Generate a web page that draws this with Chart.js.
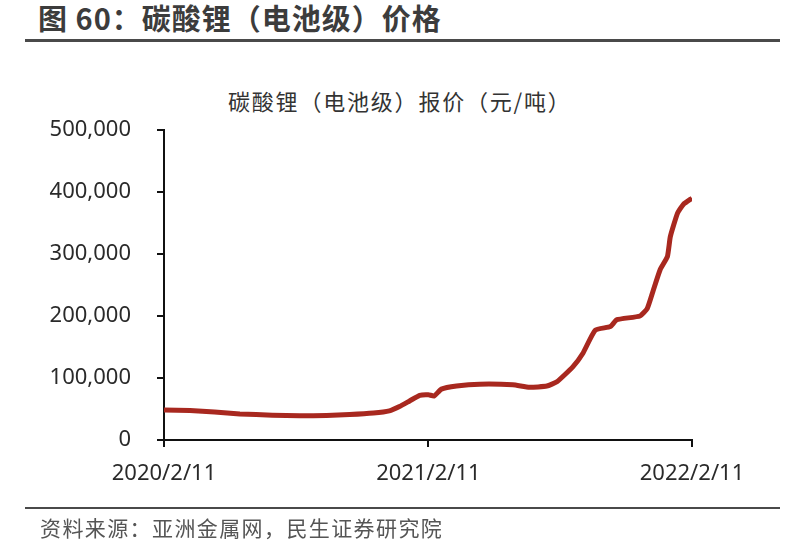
<!DOCTYPE html>
<html>
<head>
<meta charset="utf-8">
<script src="https://cdn.jsdelivr.net/npm/chart.js@4.4.1/dist/chart.umd.min.js"></script>
<style>
  body { margin: 0; background: #fff; }
  #wrap { position: relative; width: 800px; height: 543px; overflow: hidden;
          font-family: "Noto Sans CJK SC", "Noto Sans", sans-serif; }
  #title { position: absolute; left: 38px; top: -4px; font-size: 29px; font-weight: bold; color: #3c3c3c; white-space: nowrap; letter-spacing: 1px; }
  #rule1 { position: absolute; left: 25px; top: 39px; width: 755px; height: 3px; background: #4a4a4a; }
  #subtitle { position: absolute; left: 228px; top: 84px; font-size: 22px; color: #333; white-space: nowrap; letter-spacing: 1.8px; }
  #rule2 { position: absolute; left: 25px; top: 507px; width: 755px; height: 2px; background: #4a4a4a; }
  #source { position: absolute; left: 40px; top: 512px; font-size: 21px; color: #555; white-space: nowrap; letter-spacing: 1.4px; }
  canvas { position: absolute; left: 0; top: 0; }
</style>
</head>
<body>
<div id="wrap">
  <div id="title">图 60：碳酸锂（电池级）价格</div>
  <div id="rule1"></div>
  <div id="subtitle">碳酸锂（电池级）报价（元/吨）</div>
  <canvas id="chart" width="800" height="543"></canvas>
  <div id="rule2"></div>
  <div id="source">资料来源：亚洲金属网，民生证券研究院</div>
</div>
<script>
// days since 2020/2/11, price in 元/吨
const dayOffsets = [0, 36, 70, 105, 150, 188, 225, 257, 290, 312, 326, 340, 354, 366, 374, 384, 405, 437, 483, 506, 530, 544, 566, 580, 597, 618, 627, 659, 669, 677, 687, 697, 701, 711, 719, 731];
const prices     = [48500, 47500, 45000, 42000, 40000, 39000, 39500, 41000, 43500, 47000, 54000, 63000, 72000, 73000, 71000, 82000, 87000, 90000, 89000, 85000, 87000, 94000, 118000, 140000, 177000, 183000, 194000, 200000, 212000, 240000, 275000, 296000, 328000, 366000, 380000, 390000];
const xTickDays   = [0, 366, 731];
const xTickLabels = ['2020/2/11', '2021/2/11', '2022/2/11'];

const axisFont = { family: '"Noto Sans", "Noto Sans CJK SC", sans-serif', size: 22 };

new Chart(document.getElementById('chart'), {
  type: 'line',
  data: {
    datasets: [{
      data: dayOffsets.map((d, i) => ({ x: d, y: prices[i] })),
      borderColor: '#a8281f',
      borderWidth: 5,
      pointRadius: 0,
      tension: 0.15,
      fill: false,
    }]
  },
  options: {
    responsive: false,
    animation: false,
    layout: { padding: { top: 130, right: 108, left: 0, bottom: 0 } },
    plugins: { legend: { display: false }, tooltip: { enabled: false } },
    scales: {
      x: {
        type: 'linear',
        min: 0,
        max: 731,
        afterFit: s => { s.height = 103; },
        afterBuildTicks: s => { s.ticks = xTickDays.map(v => ({ value: v })); },
        grid: { drawOnChartArea: false, drawTicks: true, tickLength: 7, color: '#111', lineWidth: 2 },
        border: { display: true, color: '#111', width: 2 },
        ticks: {
          color: '#2a2a2a', font: axisFont, padding: 14, maxRotation: 0,
          callback: v => xTickLabels[xTickDays.indexOf(v)] ?? ''
        }
      },
      y: {
        min: 0,
        max: 500000,
        afterFit: s => { s.width = 164; },
        grid: { drawOnChartArea: false, drawTicks: true, tickLength: 7, color: '#111', lineWidth: 2 },
        border: { display: true, color: '#111', width: 2 },
        ticks: {
          stepSize: 100000, color: '#2a2a2a', font: axisFont, padding: 26,
          callback: v => v.toLocaleString('en-US')
        }
      }
    }
  }
});
</script>
</body>
</html>
